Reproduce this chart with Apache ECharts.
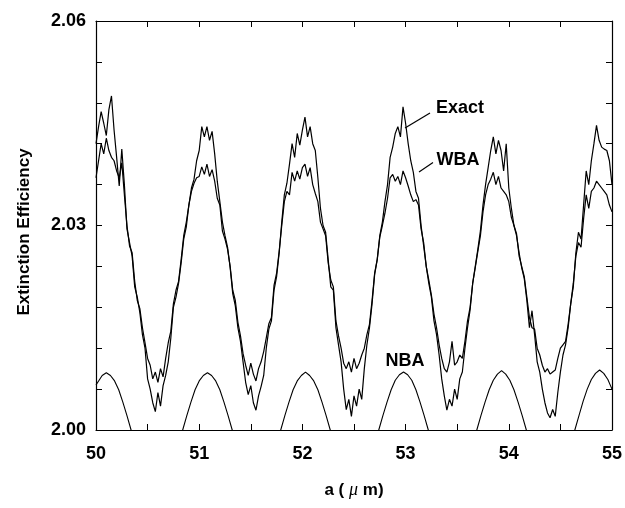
<!DOCTYPE html>
<html>
<head>
<meta charset="utf-8">
<script src="https://cdn.jsdelivr.net/npm/echarts@6/dist/echarts.min.js"></script>
<style>
html,body{margin:0;padding:0;background:#fff;}
#c{width:625px;height:508px;}
</style>
</head>
<body>
<div id="c"></div>
<script>
// sampling grid of the two computed curves (a in micrometres)
const aStart = 50, aStep = 0.025;

const exactVals = [
2.0420,2.0445,2.0467,2.0450,2.0432,2.0470,2.0490,2.0440,
2.0400,2.0358,2.0412,2.0360,2.0295,2.0275,2.0255,2.0210,
2.0195,2.0172,2.0140,2.0120,2.0075,2.0060,2.0040,2.0027,
2.0055,2.0035,2.0065,2.0080,2.0100,2.0135,2.0180,2.0195,
2.0215,2.0245,2.0280,2.0298,2.0330,2.0355,2.0368,2.0395,
2.0410,2.0445,2.0430,2.0445,2.0425,2.0438,2.0405,2.0365,
2.0335,2.0305,2.0285,2.0268,2.0238,2.0200,2.0182,2.0150,
2.0130,2.0100,2.0070,2.0052,2.0065,2.0040,2.0029,2.0050,
2.0064,2.0080,2.0120,2.0148,2.0160,2.0205,2.0225,2.0260,
2.0305,2.0345,2.0362,2.0390,2.0420,2.0400,2.0435,2.0418,
2.0440,2.0459,2.0430,2.0445,2.0420,2.0410,2.0370,2.0325,
2.0300,2.0290,2.0250,2.0210,2.0205,2.0150,2.0125,2.0100,
2.0060,2.0030,2.0045,2.0020,2.0050,2.0035,2.0060,2.0045,
2.0090,2.0125,2.0150,2.0185,2.0228,2.0250,2.0285,2.0305,
2.0335,2.0360,2.0400,2.0415,2.0435,2.0445,2.0430,2.0474,
2.0450,2.0420,2.0395,2.0378,2.0350,2.0340,2.0300,2.0270,
2.0240,2.0215,2.0195,2.0160,2.0140,2.0110,2.0075,2.0050,
2.0029,2.0045,2.0035,2.0060,2.0045,2.0075,2.0085,2.0120,
2.0150,2.0176,2.0215,2.0240,2.0265,2.0292,2.0330,2.0360,
2.0385,2.0410,2.0430,2.0405,2.0425,2.0410,2.0380,2.0420,
2.0355,2.0325,2.0300,2.0285,2.0260,2.0238,2.0222,2.0190,
2.0150,2.0175,2.0140,2.0100,2.0085,2.0060,2.0040,2.0025,
2.0018,2.0030,2.0020,2.0055,2.0085,2.0110,2.0125,2.0150,
2.0185,2.0210,2.0260,2.0290,2.0280,2.0330,2.0380,2.0360,
2.0395,2.0420,2.0447,2.0425,2.0415,2.0412,2.0410,2.0395,
2.0360
];

const wbaVals = [
2.0370,2.0395,2.0420,2.0405,2.0428,2.0410,2.0400,2.0395,
2.0380,2.0370,2.0392,2.0345,2.0300,2.0270,2.0260,2.0218,
2.0190,2.0178,2.0150,2.0128,2.0105,2.0095,2.0075,2.0085,
2.0070,2.0090,2.0078,2.0105,2.0128,2.0145,2.0185,2.0205,
2.0218,2.0250,2.0285,2.0305,2.0330,2.0350,2.0362,2.0370,
2.0372,2.0386,2.0375,2.0390,2.0372,2.0382,2.0365,2.0340,
2.0330,2.0292,2.0280,2.0265,2.0240,2.0205,2.0190,2.0158,
2.0138,2.0112,2.0095,2.0080,2.0098,2.0082,2.0072,2.0090,
2.0100,2.0115,2.0135,2.0156,2.0165,2.0212,2.0230,2.0262,
2.0300,2.0335,2.0350,2.0345,2.0378,2.0365,2.0380,2.0368,
2.0385,2.0390,2.0372,2.0385,2.0360,2.0347,2.0335,2.0305,
2.0295,2.0285,2.0245,2.0220,2.0210,2.0160,2.0138,2.0120,
2.0098,2.0090,2.0100,2.0085,2.0105,2.0090,2.0098,2.0110,
2.0120,2.0140,2.0155,2.0190,2.0230,2.0250,2.0283,2.0300,
2.0318,2.0340,2.0370,2.0375,2.0365,2.0372,2.0360,2.0380,
2.0370,2.0358,2.0345,2.0335,2.0338,2.0330,2.0295,2.0275,
2.0240,2.0220,2.0198,2.0170,2.0150,2.0125,2.0105,2.0090,
2.0085,2.0100,2.0130,2.0095,2.0100,2.0110,2.0105,2.0130,
2.0160,2.0180,2.0215,2.0238,2.0262,2.0285,2.0320,2.0345,
2.0360,2.0368,2.0378,2.0360,2.0372,2.0355,2.0350,2.0345,
2.0335,2.0312,2.0300,2.0288,2.0255,2.0240,2.0225,2.0195,
2.0165,2.0150,2.0148,2.0120,2.0110,2.0095,2.0085,2.0090,
2.0082,2.0085,2.0088,2.0105,2.0120,2.0125,2.0130,2.0155,
2.0185,2.0215,2.0255,2.0275,2.0268,2.0310,2.0345,2.0325,
2.0350,2.0355,2.0365,2.0360,2.0355,2.0350,2.0345,2.0330,
2.0320
];

// NBA arches (values below 2.00 fall under the axis and are clipped)
const nbaA = [
50.00,50.06,50.10,50.14,50.18,50.22,50.26,50.30,50.34,50.38,
50.80,50.84,50.88,50.92,50.96,51.00,51.04,51.08,51.12,51.16,51.20,51.24,51.28,51.32,51.36,
51.75,51.79,51.83,51.87,51.91,51.95,51.99,52.03,52.07,52.11,52.15,52.19,52.23,52.27,52.31,
52.70,52.74,52.78,52.82,52.86,52.90,52.94,52.98,53.02,53.06,53.10,53.14,53.18,53.22,53.26,
53.65,53.69,53.73,53.77,53.81,53.85,53.89,53.93,53.97,54.01,54.05,54.09,54.13,54.17,54.21,
54.60,54.64,54.68,54.72,54.76,54.80,54.84,54.88,54.92,54.96,55.00
];
const nbaV = [
2.0066,2.0080,2.0084,2.0080,2.0072,2.0059,2.0041,2.0021,2.0000,1.9978,
1.9978,2.0000,2.0021,2.0041,2.0059,2.0072,2.0080,2.0084,2.0080,2.0072,2.0059,2.0041,2.0021,2.0000,1.9978,
1.9978,2.0000,2.0021,2.0041,2.0059,2.0072,2.0080,2.0085,2.0080,2.0072,2.0059,2.0041,2.0021,2.0000,1.9978,
1.9978,2.0000,2.0021,2.0041,2.0059,2.0073,2.0081,2.0085,2.0081,2.0073,2.0059,2.0041,2.0021,2.0000,1.9978,
1.9978,2.0000,2.0021,2.0041,2.0059,2.0073,2.0082,2.0087,2.0082,2.0073,2.0059,2.0041,2.0021,2.0000,1.9978,
1.9978,2.0000,2.0021,2.0042,2.0060,2.0074,2.0083,2.0088,2.0083,2.0074,2.0060
];

const xTickVals = [50, 51, 52, 53, 54, 55];
const xTickLabels = ['50', '51', '52', '53', '54', '55'];
const yTickVals = [2.00, 2.03, 2.06];
const yTickLabels = ['2.00', '2.03', '2.06'];

const FONT = '"Liberation Sans", Arial, Helvetica, sans-serif';

const exactData = exactVals.map((v, i) => [aStart + i * aStep, v]);
const wbaData = wbaVals.map((v, i) => [aStart + i * aStep, v]);
const nbaData = nbaA.map((a, i) => [a, nbaV[i]]);

function xFmt(v) {
  for (let i = 0; i < xTickVals.length; i++) if (Math.abs(v - xTickVals[i]) < 1e-6) return xTickLabels[i];
  return '';
}
function yFmt(v) {
  for (let i = 0; i < yTickVals.length; i++) if (Math.abs(v - yTickVals[i]) < 1e-6) return yTickLabels[i];
  return '';
}

const axisCommon = {
  axisLine: { show: true, onZero: false, lineStyle: { color: '#000', width: 1.2 } },
  axisTick: { show: true, inside: true, length: 6, lineStyle: { color: '#000', width: 1 } },
  splitLine: { show: false }
};

const chart = echarts.init(document.getElementById('c'), null, { renderer: 'canvas' });
chart.setOption({
  animation: false,
  backgroundColor: '#fff',
  grid: { left: 96, right: 12, top: 21, bottom: 78, containLabel: false },
  xAxis: [
    Object.assign({
      type: 'value', position: 'bottom', min: 50, max: 55, interval: 0.5,
      name: '{n|a ( }{mu|μ}{n| m)}', nameLocation: 'middle', nameGap: 51,
      nameTextStyle: { rich: {
        n: { fontFamily: FONT, fontWeight: 'bold', fontSize: 17, color: '#000' },
        mu: { fontFamily: 'serif', fontStyle: 'italic', fontSize: 18, color: '#000' }
      } },
      axisLabel: { show: true, margin: 15, formatter: xFmt, hideOverlap: false,
        fontFamily: FONT, fontWeight: 'bold', fontSize: 18, color: '#000' }
    }, axisCommon),
    Object.assign({
      type: 'value', position: 'top', min: 50, max: 55, interval: 0.5,
      axisLabel: { show: false }
    }, axisCommon)
  ],
  yAxis: [
    Object.assign({
      type: 'value', position: 'left', min: 2.0, max: 2.06, interval: 0.006,
      axisLabel: { show: true, margin: 10, formatter: yFmt, hideOverlap: false,
        fontFamily: FONT, fontWeight: 'bold', fontSize: 18, color: '#000' }
    }, axisCommon),
    Object.assign({
      type: 'value', position: 'right', min: 2.0, max: 2.06, interval: 0.006,
      axisLabel: { show: false }
    }, axisCommon)
  ],
  series: [
    { name: 'NBA', type: 'line', data: nbaData, showSymbol: false, clip: true,
      lineStyle: { color: '#000', width: 1.1 }, xAxisIndex: 0, yAxisIndex: 0 },
    { name: 'WBA', type: 'line', data: wbaData, showSymbol: false, clip: true,
      lineStyle: { color: '#000', width: 1.2 }, xAxisIndex: 0, yAxisIndex: 0 },
    { name: 'Exact', type: 'line', data: exactData, showSymbol: false, clip: true,
      lineStyle: { color: '#000', width: 1.2 }, xAxisIndex: 0, yAxisIndex: 0 }
  ],
  graphic: [
    { type: 'text', x: 24, y: 232, rotation: Math.PI / 2,
      style: { text: 'Extinction Efficiency', fontFamily: FONT, fontWeight: 'bold', fontSize: 17,
        fill: '#000', align: 'center', verticalAlign: 'middle' } },
    { type: 'text', x: 436, y: 108.5,
      style: { text: 'Exact', fontFamily: FONT, fontWeight: 'bold', fontSize: 18,
        fill: '#000', align: 'left', verticalAlign: 'middle' } },
    { type: 'line', shape: { x1: 430, y1: 113, x2: 405, y2: 128 },
      style: { stroke: '#000', lineWidth: 1.2 } },
    { type: 'text', x: 436.5, y: 160,
      style: { text: 'WBA', fontFamily: FONT, fontWeight: 'bold', fontSize: 18,
        fill: '#000', align: 'left', verticalAlign: 'middle' } },
    { type: 'line', shape: { x1: 433, y1: 162.5, x2: 419, y2: 172 },
      style: { stroke: '#000', lineWidth: 1.2 } },
    { type: 'text', x: 405, y: 361.5,
      style: { text: 'NBA', fontFamily: FONT, fontWeight: 'bold', fontSize: 18,
        fill: '#000', align: 'center', verticalAlign: 'middle' } }
  ]
});
</script>
</body>
</html>
